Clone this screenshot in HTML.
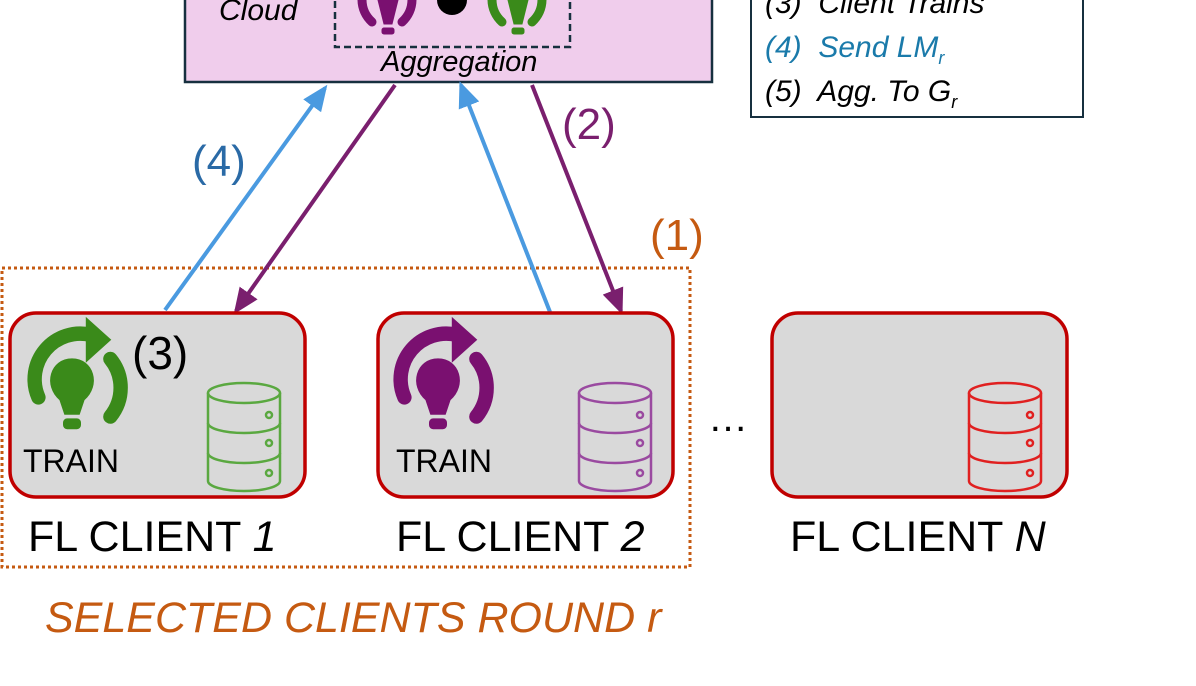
<!DOCTYPE html>
<html><head><meta charset="utf-8"><style>
body{margin:0;width:1196px;height:686px;background:#fff;overflow:hidden;position:relative;font-family:"Liberation Sans",sans-serif}
.t{position:absolute;white-space:nowrap;line-height:1}
</style></head><body>
<svg width="1196" height="686" style="position:absolute;left:0;top:0">
<defs>
<marker id="mb" markerWidth="26" markerHeight="22" refX="22" refY="11" orient="auto" markerUnits="userSpaceOnUse" viewBox="0 0 26 22"><path d="M0,0 L26,11 L0,22z" fill="#4a9ae0"/></marker>
<marker id="mp" markerWidth="26" markerHeight="22" refX="22" refY="11" orient="auto" markerUnits="userSpaceOnUse" viewBox="0 0 26 22"><path d="M0,0 L26,11 L0,22z" fill="#7a1f6e"/></marker>
<g id="db"><g fill="none" stroke-width="2.5">
<ellipse cx="0" cy="0" rx="36" ry="10"/>
<path d="M-36,0 V88 A36,10 0 0 0 36,88 V0"/>
<path d="M-36,30 A36,10 0 0 0 36,30"/><path d="M-36,60 A36,10 0 0 0 36,60"/>
<circle cx="25" cy="22" r="3"/><circle cx="25" cy="50" r="3"/><circle cx="25" cy="80" r="3"/></g></g>
<g id="tr"><path d="M-28,42 A38,38 0 0 1 16,-10" fill="none" stroke-width="12" stroke-linecap="round"/>
<path d="M12,-24 L32,-6 L12,12z"/>
<path d="M32,10 A38,38 0 0 1 32,58" fill="none" stroke-width="12" stroke-linecap="round"/>
<path d="M0,10 C-18,10 -24,32 -10,44 L-6,56 H6 L10,44 C24,32 18,10 0,10z"/>
<rect x="-7" y="60" width="14" height="8" rx="3"/></g>
</defs>
<rect x="185" y="-5" width="527" height="87" fill="#f0cdec" stroke="#16303f" stroke-width="2.5"/>
<rect x="335" y="-5" width="235" height="52" fill="none" stroke="#16303f" stroke-width="2.5" stroke-dasharray="7,4"/>
<g fill="#7a1070" stroke="#7a1070"><path d="M362,0 A30,30 0 0 0 372,22" fill="none" stroke-width="9" stroke-linecap="round"/><path d="M412,0 A30,30 0 0 1 402,22" fill="none" stroke-width="9" stroke-linecap="round"/><path d="M378,0 H398 L392,24 H384z"/><rect x="382" y="28" width="12" height="6" rx="2"/></g>
<circle cx="452" cy="0" r="15" fill="#000"/>
<g fill="#3a8a1a" stroke="#3a8a1a"><path d="M492,0 A30,30 0 0 0 502,22" fill="none" stroke-width="9" stroke-linecap="round"/><path d="M542,0 A30,30 0 0 1 532,22" fill="none" stroke-width="9" stroke-linecap="round"/><path d="M508,0 H528 L522,24 H514z"/><rect x="512" y="28" width="12" height="6" rx="2"/></g>
<rect x="751" y="-5" width="332" height="122" fill="#fff" stroke="#16303f" stroke-width="2"/>
<rect x="2" y="268" width="688" height="299" fill="none" stroke="#c55a11" stroke-width="3" stroke-dasharray="3,3"/>
<g stroke-width="4">
<line x1="165" y1="310" x2="325" y2="88" stroke="#4a9ae0" marker-end="url(#mb)" />
<line x1="395" y1="85" x2="236" y2="311" stroke="#7a1f6e" marker-end="url(#mp)"/>
<line x1="550" y1="312" x2="461" y2="85" stroke="#4a9ae0" marker-end="url(#mb)"/>
<line x1="532" y1="85" x2="621" y2="311" stroke="#7a1f6e" marker-end="url(#mp)"/>
</g>
<g fill="#d9d9d9" stroke="#c00000" stroke-width="3.5">
<rect x="10" y="313" width="295" height="184" rx="26"/>
<rect x="378" y="313" width="295" height="184" rx="26"/>
<rect x="772" y="313" width="295" height="184" rx="26"/>
</g>
<use href="#tr" transform="translate(72,347) scale(1.2)" fill="#3a8a1a" stroke="#3a8a1a"/>
<use href="#tr" transform="translate(438,347) scale(1.2)" fill="#7a1070" stroke="#7a1070"/>
<use href="#db" x="244" y="393" stroke="#5aa840"/>
<use href="#db" x="615" y="393" stroke="#9a4aa0"/>
<use href="#db" x="1005" y="393" stroke="#e02020"/>
</svg>
<div class="t" style="left:219px;top:-4px;font-size:30px;font-style:italic">Cloud</div>
<div class="t" style="left:381px;top:48px;font-size:29px;font-style:italic">Aggregation</div>
<div class="t" style="left:765px;top:-11px;font-size:30px;font-style:italic">(3)&nbsp; Client Trains</div>
<div class="t" style="left:765px;top:33px;font-size:30px;font-style:italic;color:#1a7aaa">(4)&nbsp; Send LM<sub style="font-size:18px">r</sub></div>
<div class="t" style="left:765px;top:77px;font-size:30px;font-style:italic">(5)&nbsp; Agg. To G<sub style="font-size:18px">r</sub></div>
<div class="t" style="left:192px;top:140px;font-size:44px;color:#2a6aa6">(4)</div>
<div class="t" style="left:562px;top:103px;font-size:44px;color:#7a1f6e">(2)</div>
<div class="t" style="left:650px;top:214px;font-size:44px;color:#c55a11">(1)</div>
<div class="t" style="left:132px;top:330px;font-size:46px">(3)</div>
<div class="t" style="left:23px;top:445px;font-size:32px">TRAIN</div>
<div class="t" style="left:396px;top:445px;font-size:32px">TRAIN</div>
<div class="t" style="left:708px;top:398px;font-size:40px">…</div>
<div class="t" style="left:28px;top:516px;font-size:43px">FL CLIENT <i>1</i></div>
<div class="t" style="left:396px;top:516px;font-size:43px">FL CLIENT <i>2</i></div>
<div class="t" style="left:790px;top:516px;font-size:43px">FL CLIENT <i>N</i></div>
<div class="t" style="left:45px;top:597px;font-size:43px;font-style:italic;color:#c55a11">SELECTED CLIENTS ROUND r</div>
</body></html>
